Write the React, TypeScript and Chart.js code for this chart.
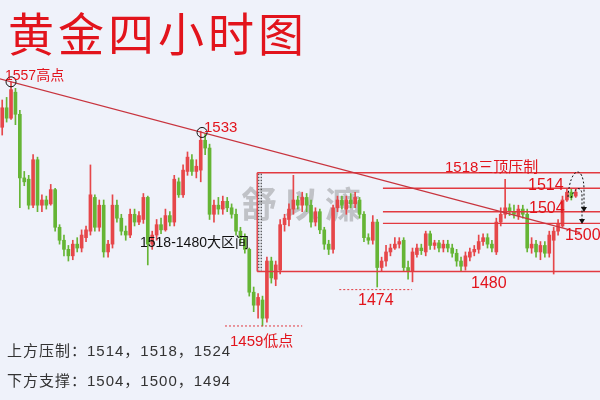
import React, { useEffect, useRef } from "react";
import { Chart, registerables } from "chart.js";

Chart.register(...registerables);

// ---- data (4-hour gold candles) ----
const openPrices = [
  1535.5, 1543, 1539, 1549, 1540.5, 1516, 1515.5, 1505.5, 1523, 1505.5,
  1507.5, 1506, 1511.5, 1497, 1492, 1488.5, 1486, 1490.5, 1489, 1493,
  1495.5, 1508.5, 1497, 1505.5, 1487.5, 1490.5, 1505.5, 1500.5, 1495.5, 1494,
  1502, 1499, 1500, 1508.5, 1490.5, 1494, 1498, 1496, 1501.5, 1499,
  1514.5, 1509.5, 1518.5, 1523, 1518.5, 1519, 1530.5, 1527.5, 1502, 1505.5,
  1504, 1507, 1504.5, 1502, 1495.5, 1493, 1488.5, 1472, 1467, 1469,
  1462, 1484, 1477, 1480.5, 1498, 1500, 1504, 1507.5, 1505.5, 1508.5,
  1505.5, 1499, 1503, 1496, 1490.5, 1488.5, 1504.5, 1507.5, 1504, 1507.5,
  1506, 1507.5, 1502, 1493, 1492, 1499, 1481.5, 1484, 1487.5, 1489,
  1490.5, 1492, 1481.5, 1480, 1486.5, 1489, 1487.5, 1494.5, 1490, 1491,
  1489, 1490.5, 1489, 1487, 1484, 1482, 1485.5, 1487.5, 1488.5, 1491.5,
  1493, 1490.5, 1487.5, 1499, 1502, 1504.5, 1503, 1501.5, 1504, 1502,
  1489, 1490.5, 1487.5, 1490, 1487, 1492, 1495.5, 1497.5, 1507.5, 1510.5,
  1509,
];
const closePrices = [
  1543, 1539, 1550, 1540.5, 1516, 1514.5, 1505.5, 1523, 1505.5, 1507.5,
  1505.5, 1511.5, 1497, 1492, 1488.5, 1486, 1490.5, 1489, 1494, 1496,
  1509.5, 1497, 1505.5, 1487.5, 1490.5, 1505.5, 1500.5, 1495.5, 1494, 1502,
  1499, 1501.5, 1508.5, 1490.5, 1494, 1498, 1496, 1501.5, 1499, 1515.5,
  1509.5, 1519, 1524, 1518.5, 1520.5, 1530.5, 1527.5, 1502, 1505.5, 1504,
  1507, 1504.5, 1502, 1495.5, 1493, 1488.5, 1472, 1467, 1470, 1462,
  1484, 1477.5, 1482.5, 1498, 1500.5, 1504, 1507.5, 1505.5, 1508.5, 1505.5,
  1499, 1503, 1496, 1490.5, 1488.5, 1504.5, 1507.5, 1505.5, 1507.5, 1506,
  1508.5, 1502, 1493, 1492, 1499, 1481.5, 1484, 1487.5, 1489, 1490.5,
  1491.5, 1481.5, 1480, 1487.5, 1489, 1488, 1494.5, 1490, 1491, 1489,
  1490.5, 1489, 1487, 1484, 1482, 1486, 1487.5, 1488.5, 1491.5, 1493,
  1490.5, 1489, 1499, 1502, 1504.5, 1503, 1502, 1504, 1502, 1489,
  1490.5, 1487.5, 1490, 1487, 1494, 1495.5, 1498.5, 1507.5, 1510.5, 1508.5,
  1510.5,
];
const highPrices = [
  1546, 1547, 1553, 1550.5, 1542, 1518.5, 1517, 1525, 1524, 1509.5,
  1509, 1513.5, 1512, 1498, 1494, 1490, 1492, 1493, 1496, 1497.5,
  1521, 1509.5, 1507.5, 1507.5, 1492, 1509.5, 1507.5, 1502, 1497.5, 1504,
  1504, 1503, 1510, 1509, 1495.5, 1500, 1500.5, 1504, 1503, 1517,
  1516, 1521, 1526, 1525, 1523, 1534, 1533, 1529, 1507.5, 1508.5,
  1509, 1508.5, 1506, 1504, 1497, 1494.5, 1489, 1474, 1471.5, 1470.5,
  1485.5, 1485.5, 1484, 1500, 1502, 1506, 1517, 1509, 1510.5, 1510,
  1507.5, 1504.5, 1504, 1497, 1492, 1505.5, 1509, 1509, 1509, 1510,
  1510.5, 1508.5, 1503, 1494.5, 1501.5, 1500, 1485.5, 1490, 1490.5, 1493,
  1493, 1493, 1484, 1489, 1490.5, 1490.5, 1495.5, 1495.5, 1492, 1492,
  1492, 1492, 1490.5, 1488.5, 1485.5, 1487.5, 1489, 1490, 1494, 1494.5,
  1494.5, 1492, 1500.5, 1504.5, 1515.5, 1506, 1505.5, 1505.5, 1505.5, 1504,
  1493, 1492, 1491.5, 1491.5, 1495.5, 1497, 1500, 1509, 1512, 1512,
  1512,
];
const lowPrices = [
  1532.5, 1537.5, 1538.5, 1536.5, 1504.5, 1513, 1504, 1504.5, 1503, 1503,
  1504, 1505.5, 1495.5, 1490.5, 1486, 1484, 1484.5, 1487.5, 1487.5, 1491.5,
  1494, 1495.5, 1495.5, 1485.5, 1485.5, 1489, 1499, 1494, 1492, 1493,
  1497.5, 1498, 1498.5, 1482.5, 1488.5, 1492, 1494.5, 1495.5, 1497.5, 1497.5,
  1508.5, 1508.5, 1517, 1517, 1516, 1514.5, 1525, 1500, 1499, 1502,
  1502, 1503, 1500.5, 1494, 1490.5, 1487, 1470.5, 1464.5, 1462, 1459,
  1460.5, 1475.5, 1474.5, 1479, 1495.5, 1497.5, 1502, 1504, 1503, 1503,
  1497, 1497.5, 1494.5, 1488.5, 1486.5, 1487, 1503, 1504, 1502, 1504.5,
  1504.5, 1500.5, 1491.5, 1490.5, 1490.5, 1474, 1480, 1482, 1486, 1488.5,
  1489, 1480, 1477, 1476, 1485.5, 1486.5, 1486, 1488.5, 1488.5, 1487.5,
  1487.5, 1487.5, 1485.5, 1482, 1480, 1480.5, 1484, 1486, 1487, 1490,
  1489, 1487.5, 1486.5, 1497.5, 1500.5, 1501.5, 1500.5, 1500, 1500.5, 1487.5,
  1487, 1485.5, 1484.5, 1485.5, 1485.5, 1479, 1494, 1497, 1507, 1507.5,
  1508.5,
];
const slotCount = 136; // candle slots incl. empty space on the right
const priceMin = 1430.5;
const priceMax = 1584.5;

// key levels as drawn
const boxLevels = [1518, 1480];
const innerLevels = [1512, 1503, 1498.5];
const dashedLevels = [1473, 1459];
const trendAnchors = [
  [2, 1553],
  [45.3, 1533.5],
];

const titleText = "黄金四小时图";
const watermarkChars = ["舒", "以", "濂"];
const resistanceText = "上方压制：1514，1518，1524";
const supportText = "下方支撑：1504，1500，1494";

const UP = "#e6474a";
const DOWN = "#66b535";
const RED_TEXT = "#e2141c";
const LINE_RED = "#e23a40";

const overlayPlugin = {
  id: "overlay",
  beforeDraw(chart: any) {
    const ctx = chart.ctx;
    ctx.save();
    ctx.fillStyle = "#eff2fa";
    ctx.fillRect(0, 0, chart.width, chart.height);
    ctx.restore();
  },
  beforeDatasetsDraw(chart: any) {
    const ctx = chart.ctx;
    ctx.save();
    ctx.fillStyle = "rgba(115,115,115,0.38)";
    ctx.font = "bold 36px 'Noto Sans CJK SC'";
    ctx.textAlign = "center";
    ctx.textBaseline = "middle";
    watermarkChars.forEach((c, i) => ctx.fillText(c, 259 + i * 42, 204));
    ctx.restore();
  },
  afterDatasetsDraw(chart: any) {
    const ctx = chart.ctx;
    const xs = chart.scales.x;
    const ys = chart.scales.y;
    const px = (i: number) => xs.getPixelForValue(i);
    const py = (v: number) => ys.getPixelForValue(v);
    const right = chart.width;
    ctx.save();

    // box and levels
    ctx.strokeStyle = LINE_RED;
    ctx.lineWidth = 1.4;
    const boxStart = px(57.8);
    ctx.beginPath();
    boxLevels.forEach((v) => {
      ctx.moveTo(boxStart, py(v));
      ctx.lineTo(right, py(v));
    });
    ctx.moveTo(boxStart, py(boxLevels[0]));
    ctx.lineTo(boxStart, py(boxLevels[1]));
    const innerStart = px(86.3);
    innerLevels.forEach((v) => {
      ctx.moveTo(innerStart, py(v));
      ctx.lineTo(right, py(v));
    });
    ctx.stroke();

    // black dotted double line at box left
    ctx.strokeStyle = "#222";
    ctx.lineWidth = 1;
    ctx.setLineDash([1.5, 1.5]);
    ctx.beginPath();
    [1.6, 4].forEach((d) => {
      ctx.moveTo(boxStart + d, py(boxLevels[0]) + 1);
      ctx.lineTo(boxStart + d, py(boxLevels[1]) - 1);
    });
    ctx.stroke();

    // red dashed support lines
    ctx.strokeStyle = LINE_RED;
    ctx.setLineDash([2, 2]);
    ctx.beginPath();
    ctx.moveTo(px(76.4), py(dashedLevels[0]));
    ctx.lineTo(px(92.9), py(dashedLevels[0]));
    ctx.moveTo(px(50.5), py(dashedLevels[1]));
    ctx.lineTo(px(68), py(dashedLevels[1]));
    ctx.stroke();
    ctx.setLineDash([]);

    // trend line
    const [a, b] = trendAnchors;
    const slope = (b[1] - a[1]) / (b[0] - a[0]);
    const t0 = -0.6;
    const t1 = 131;
    ctx.strokeStyle = "#c8343e";
    ctx.lineWidth = 1.3;
    ctx.beginPath();
    ctx.moveTo(px(t0), py(a[1] + slope * (t0 - a[0])));
    ctx.lineTo(px(t1), py(a[1] + slope * (t1 - a[0])));
    ctx.stroke();

    // circles at anchors
    ctx.strokeStyle = "#111";
    ctx.lineWidth = 1;
    trendAnchors.forEach(([i, v]) => {
      ctx.beginPath();
      ctx.arc(px(i), py(v), 5, 0, Math.PI * 2);
      ctx.stroke();
    });

    // dashed arrows on the right
    ctx.strokeStyle = "#111";
    ctx.lineWidth = 1;
    ctx.setLineDash([2, 2]);
    ctx.beginPath();
    ctx.moveTo(568, 197);
    ctx.bezierCurveTo(570, 166, 584, 164, 584, 190);
    ctx.lineTo(584, 207);
    ctx.moveTo(571, 198);
    ctx.bezierCurveTo(574, 188, 582, 184, 582, 196);
    ctx.lineTo(582, 219);
    ctx.stroke();
    ctx.setLineDash([]);
    ctx.fillStyle = "#111";
    const head = (x: number, y: number) => {
      ctx.beginPath();
      ctx.moveTo(x - 3, y - 5);
      ctx.lineTo(x + 3, y - 5);
      ctx.lineTo(x, y);
      ctx.closePath();
      ctx.fill();
    };
    head(584, 212);
    head(582, 224);

    // red labels
    ctx.fillStyle = RED_TEXT;
    ctx.textAlign = "left";
    ctx.textBaseline = "alphabetic";
    const sans = "'Liberation Sans', 'Noto Sans CJK SC'";
    ctx.font = `14px ${sans}`;
    ctx.fillText("1557高点", 5, 80);
    ctx.font = `15px ${sans}`;
    ctx.fillText("1533", 204, 132);
    ctx.fillText("1518三顶压制", 445, 172);
    ctx.font = `16px ${sans}`;
    ctx.fillText("1514", 528, 190);
    ctx.fillText("1504", 529, 213);
    ctx.fillText("1500", 565, 240);
    ctx.fillText("1480", 471, 288);
    ctx.fillText("1474", 358, 305);
    ctx.font = `15px ${sans}`;
    ctx.fillText("1459低点", 230, 346);

    // black range label
    ctx.fillStyle = "#111";
    ctx.font = `14px ${sans}`;
    ctx.fillText("1518-1480大区间", 140, 247);

    // bottom notes
    ctx.fillStyle = "#333";
    ctx.font = `15px ${sans}`;
    (ctx as any).letterSpacing = "1px";
    ctx.fillText(resistanceText, 7, 356);
    ctx.fillText(supportText, 7, 386);
    (ctx as any).letterSpacing = "0px";

    // title
    ctx.fillStyle = RED_TEXT;
    ctx.font = "400 46px 'Noto Sans CJK SC'";
    ctx.textAlign = "center";
    ctx.textBaseline = "middle";
    Array.from(titleText).forEach((c, i) => ctx.fillText(c, 31 + i * 50, 34));

    ctx.restore();
  },
};

export default function App() {
  const canvasRef = useRef<HTMLCanvasElement | null>(null);

  useEffect(() => {
    const canvas = canvasRef.current;
    if (!canvas) return;
    const labels = Array.from({ length: slotCount }, (_, i) => String(i));
    const wicks: any[] = [];
    const bodies: any[] = [];
    const colors: string[] = [];
    for (let i = 0; i < slotCount; i++) {
      if (i < openPrices.length) {
        wicks.push([lowPrices[i], highPrices[i]]);
        bodies.push([openPrices[i], closePrices[i]]);
        colors.push(closePrices[i] >= openPrices[i] ? UP : DOWN);
      } else {
        wicks.push(null);
        bodies.push(null);
        colors.push(UP);
      }
    }
    const chart = new Chart(canvas, {
      type: "bar",
      data: {
        labels,
        datasets: [
          {
            label: "wick",
            data: wicks,
            backgroundColor: colors,
            borderWidth: 0,
            barThickness: 1,
            grouped: false,
          } as any,
          {
            label: "body",
            data: bodies,
            backgroundColor: colors,
            borderWidth: 0,
            barThickness: 3,
            minBarLength: 1,
            grouped: false,
          } as any,
        ],
      },
      options: {
        animation: false,
        responsive: false,
        events: [],
        layout: { padding: 0 },
        plugins: {
          legend: { display: false },
          tooltip: { enabled: false },
          title: { display: false },
        },
        scales: {
          x: { display: false, offset: true },
          y: { display: false, min: priceMin, max: priceMax },
        },
      },
      plugins: [overlayPlugin],
    });
    return () => chart.destroy();
  }, []);

  return (
    <div style={{ position: "absolute", left: 0, top: 0, width: 600, height: 400 }}>
      <canvas ref={canvasRef} width={600} height={400} style={{ display: "block", width: 600, height: 400 }} />
    </div>
  );
}
